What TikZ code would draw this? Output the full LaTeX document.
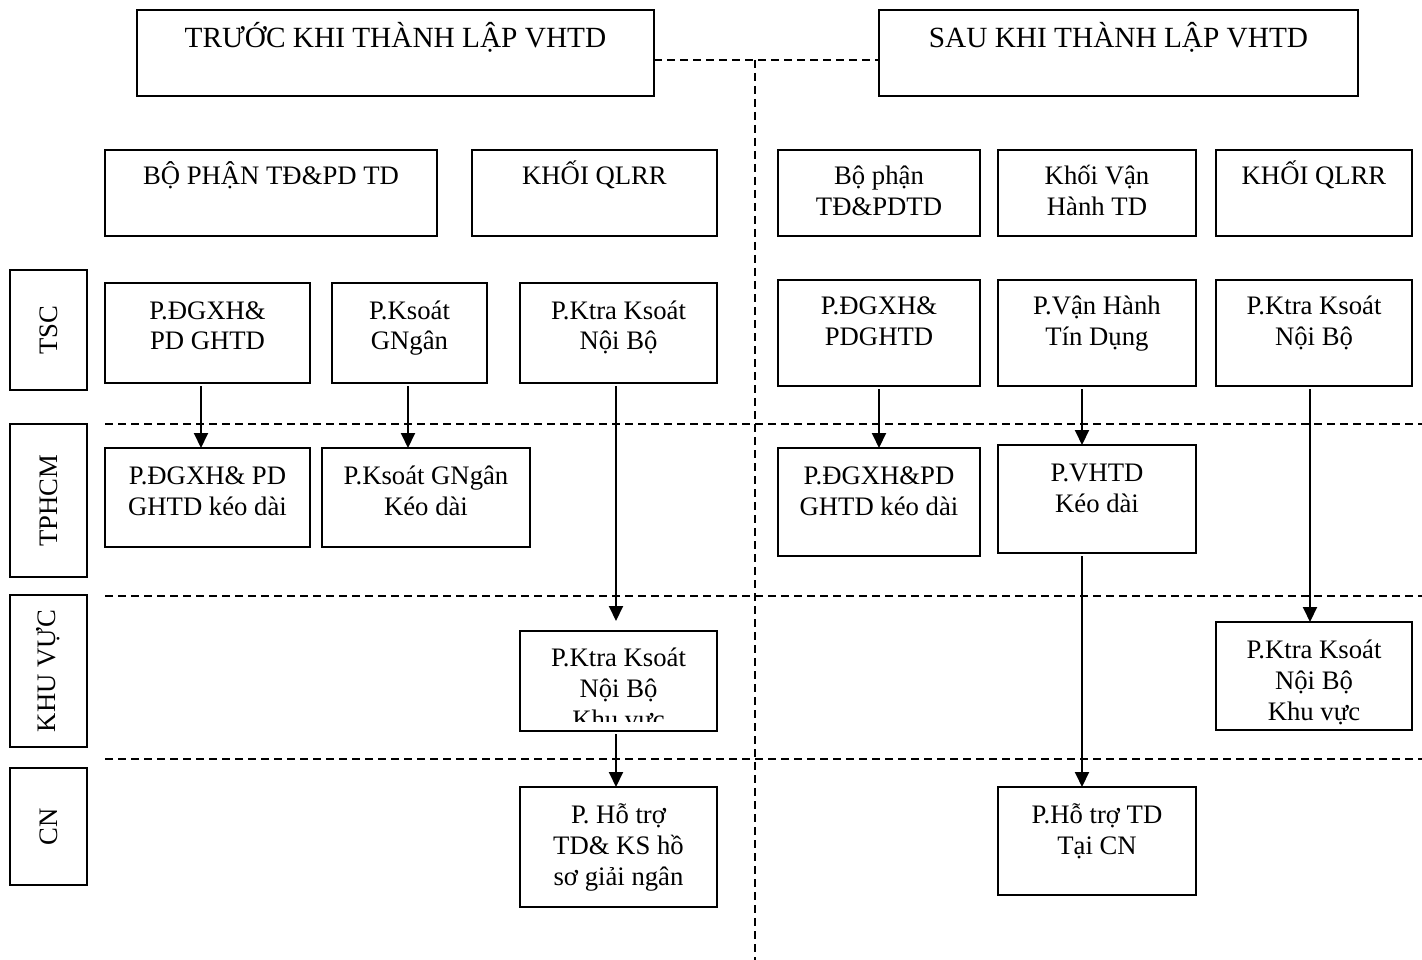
\documentclass[tikz,border=0pt]{standalone}
\usepackage{fontspec}
\setmainfont{Liberation Serif}
\usetikzlibrary{calc,arrows.meta}
\tikzset{
  box/.style={draw, line width=1.6pt, inner sep=0pt, outer sep=0pt},
  txt/.style={inner sep=0pt, font=\fontsize{26.7}{31}\selectfont},
  dsh/.style={line width=1.6pt, dash pattern=on 8pt off 5pt},
  arr/.style={line width=2pt, -{Triangle[width=14pt,length=15pt]}, shorten <=3pt},
}
\newcommand\bx[7]{%
  \node[box, minimum width={#4-#2}, minimum height={#5-#3}] (#1) at ({(#2+#4)/2},{(#3+#5)/2}) {};
  \node[txt, anchor=base] (#1t) at ({(#2+#4)/2},{#6+9}) {\parbox[t]{600pt}{\centering #7}};
}
\newcommand\lab[4]{%
  \node[box, minimum width=77, minimum height={#3-#2}] (#1) at (48.5,{(#2+#3)/2}) {};
  \node[txt, rotate=90] (#1t) at (#1.center) {#4};
}
\begin{document}
\begin{tikzpicture}[x=1pt,y=-1pt]
\path[fill=white,use as bounding box] (0,0) rectangle (1422,960);
% headers
\bx{hL}{137}{10}{654}{96}{38.8}{\fontsize{29.3}{34}\selectfont TRƯỚC KHI THÀNH LẬP VHTD}
\bx{hR}{879}{10}{1358}{96}{38.8}{\fontsize{29.3}{34}\selectfont SAU KHI THÀNH LẬP VHTD}
% blocks
\bx{a1}{105}{150}{437}{236}{176}{BỘ PHẬN TĐ\&PD TD}
\bx{a2}{472}{150}{717}{236}{176}{KHỐI QLRR}
\bx{b1}{778}{150}{980}{236}{176}{Bộ phận\\TĐ\&PDTD}
\bx{b2}{998}{150}{1196}{236}{176}{Khối Vận\\Hành TD}
\bx{b3}{1216}{150}{1412}{236}{176}{KHỐI QLRR}
% TSC row
\bx{c1}{105}{283}{310}{383}{310}{P.ĐGXH\&\\PD GHTD}
\bx{c2}{332}{283}{487}{383}{310}{P.Ksoát\\GNgân}
\bx{c3}{520}{283}{717}{383}{310}{P.Ktra Ksoát\\Nội Bộ}
\bx{d1}{778}{280}{980}{386}{305}{P.ĐGXH\&\\PDGHTD}
\bx{d2}{998}{280}{1196}{386}{305}{P.Vận Hành\\Tín Dụng}
\bx{d3}{1216}{280}{1412}{386}{305}{P.Ktra Ksoát\\Nội Bộ}
% TPHCM row
\bx{e1}{105}{448}{310}{547}{475}{P.ĐGXH\& PD\\GHTD kéo dài}
\bx{e2}{322}{448}{530}{547}{475}{P.Ksoát GNgân\\Kéo dài}
\bx{f1}{778}{448}{980}{556}{475}{P.ĐGXH\&PD\\GHTD kéo dài}
\bx{f2}{998}{445}{1196}{553}{472}{P.VHTD\\Kéo dài}
% KHU VUC row
\node[box, minimum width=197, minimum height=100] (g1) at (618.5,681) {};
\begin{scope}
  \clip (520,631) rectangle (717,721);
  \node[txt, anchor=base] (g1t) at (618.5,666) {\parbox[t]{600pt}{\centering P.Ktra Ksoát\\Nội Bộ\\Khu vực}};
\end{scope}
\bx{g2}{1216}{622}{1412}{730}{649}{P.Ktra Ksoát\\Nội Bộ\\Khu vực}
% CN row
\bx{h1}{520}{787}{717}{907}{814}{P. Hỗ trợ\\TD\& KS hồ\\sơ giải ngân}
\bx{h2}{998}{787}{1196}{895}{814}{P.Hỗ trợ TD\\Tại CN}
% left labels
\lab{lTSC}{270}{390}{TSC}
\lab{lHCM}{424}{577}{TPHCM}
\lab{lKV}{595}{747}{KHU VỰC}
\lab{lCN}{768}{885}{CN}
% dashed separators
\coordinate (s1a) at (105,424); \coordinate (s1b) at (1422,424);
\coordinate (s2a) at (105,596); \coordinate (s2b) at (1422,596);
\coordinate (s3a) at (105,759); \coordinate (s3b) at (1422,759);
\draw[dsh] (s1a) -- (s1b);
\draw[dsh] (s2a) -- (s2b);
\draw[dsh] (s3a) -- (s3b);
\coordinate (jt) at (755,60); \coordinate (jb) at (755,960);
\draw[dsh] ([yshift=-7pt]hL.east) -- ([yshift=-7pt]hR.west);
\draw[dsh] (jt) -- (jb);
% arrows
\draw[arr] ([xshift=-6.5pt]c1.south) -- ([xshift=-6.5pt]e1.north);
\draw[arr] ([xshift=-1.5pt]c2.south) -- ([xshift=-18pt]e2.north);
\draw[arr, shorten >=10pt] ([xshift=-2.5pt]c3.south) -- ([xshift=-2.5pt]g1.north);
\draw[arr] ([xshift=-2.5pt]g1.south) -- ([xshift=-2.5pt]h1.north);
\draw[arr] (d1.south) -- (f1.north);
\draw[arr] ([xshift=-15pt]d2.south) -- ([xshift=-15pt]f2.north);
\draw[arr] ([xshift=-4pt]d3.south) -- ([xshift=-4pt]g2.north);
\draw[arr] ([xshift=-15pt]f2.south) -- ([xshift=-15pt]h2.north);
\end{tikzpicture}
\end{document}
